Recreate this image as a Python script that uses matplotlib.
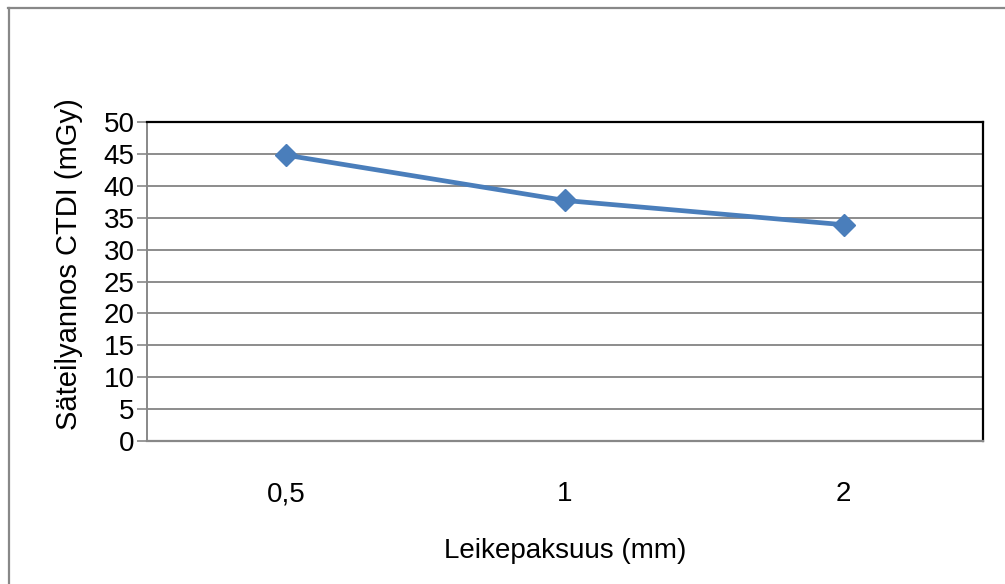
import matplotlib
matplotlib.use("Agg")
import matplotlib.pyplot as plt
from matplotlib.lines import Line2D

categories = ["0,5", "1", "2"]
values = [44.8, 37.7, 33.9]
yticks = [0, 5, 10, 15, 20, 25, 30, 35, 40, 45, 50]

plt.rcParams['font.family'] = ['Liberation Sans', 'DejaVu Sans']

W, H = 1005, 584
fig = plt.figure(figsize=(W / 100, H / 100), dpi=100)

# outer chart border (top and left only visible)
fig.add_artist(Line2D([8 / W, 1.0], [1 - 7.5 / H, 1 - 7.5 / H], color='#888888', lw=1.6))
fig.add_artist(Line2D([8.5 / W, 8.5 / W], [0, 1 - 7.5 / H], color='#888888', lw=1.6))

left, right, top, bottom = 147, 983, 122, 441
ax = fig.add_axes([left / W, 1 - bottom / H, (right - left) / W, (bottom - top) / H])

x = [i + 0.5 for i in range(len(categories))]
ax.plot(x, values, color='#4A7EBB', lw=3.4, marker='D', markersize=11.5,
        markerfacecolor='#4A7EBB', markeredgecolor='#4A7EBB', zorder=3,
        solid_joinstyle='round')

ax.set_xlim(0, len(categories))
ax.set_ylim(0, 50)
ax.set_yticks(yticks)
ax.set_yticklabels([str(t) for t in yticks], fontsize=20)
ax.set_xticks(x)
ax.set_xticklabels(categories, fontsize=20)
ax.tick_params(axis='x', length=0, pad=29)
ax.tick_params(axis='y', length=7, width=1.2, color='#888888', pad=2)

ax.grid(axis='y', color='#8c8c8c', lw=1.4)
ax.set_axisbelow(True)

ax.spines['left'].set_color('#888888')
ax.spines['left'].set_linewidth(1.4)
ax.spines['bottom'].set_color('#888888')
ax.spines['bottom'].set_linewidth(1.6)
ax.spines['top'].set_color('black')
ax.spines['top'].set_linewidth(1.6)
ax.spines['right'].set_color('black')
ax.spines['right'].set_linewidth(1.6)

ax.set_ylabel("Säteilyannos CTDI (mGy)", fontsize=21, va='center')
ax.yaxis.set_label_coords(-0.0935, 0.555)
ax.set_xlabel("Leikepaksuus (mm)", fontsize=20, labelpad=22)

fig.savefig("out.png", dpi=100, facecolor='white')
